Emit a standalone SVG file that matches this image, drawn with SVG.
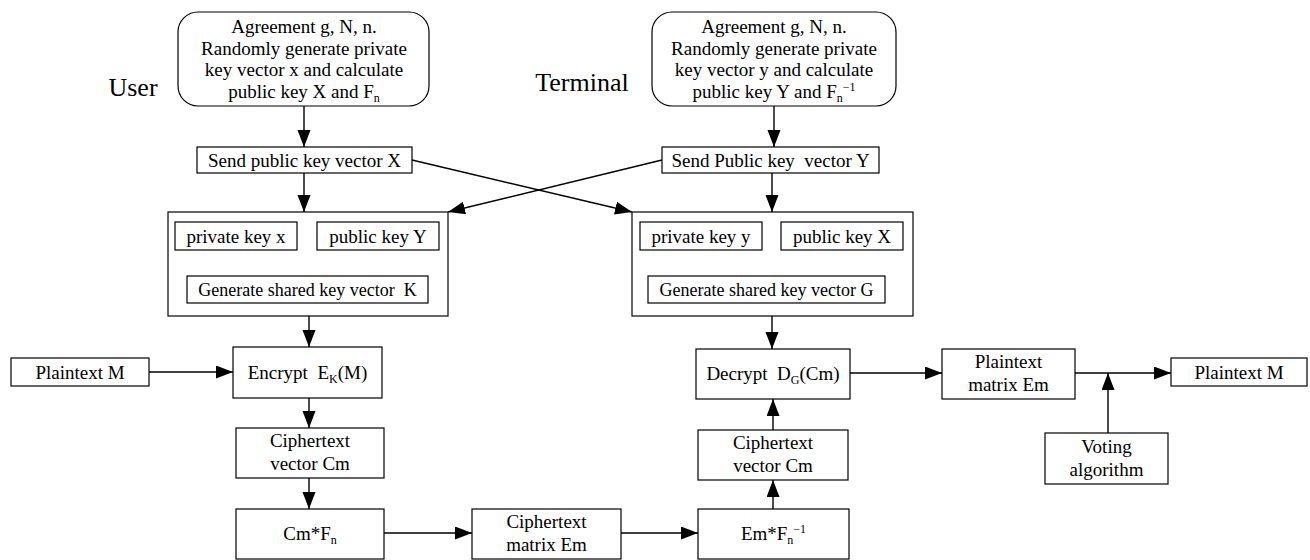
<svg xmlns="http://www.w3.org/2000/svg" width="1310" height="560" viewBox="0 0 1310 560">
  <style>
    .box { fill: #fff; stroke: #000; stroke-width: 1.2; }
    .t { font-family: "Liberation Serif", "Times New Roman", serif; font-size: 19px; fill: #000; text-anchor: middle; }
    .ts { font-size: 18px; }
    .lbl { font-family: "Liberation Serif", "Times New Roman", serif; font-size: 26px; fill: #000; text-anchor: middle; }
    .sub { font-size: 12px; }
    .edge { fill: none; stroke: #000; stroke-width: 1.4; marker-end: url(#ah); }
  </style>
  <defs>
    <marker id="ah" markerUnits="userSpaceOnUse" markerWidth="18" markerHeight="14" refX="17" refY="6.5" orient="auto">
      <path d="M0,0 L17,6.5 L0,13 z" fill="#000"/>
    </marker>
  </defs>
  <rect width="1310" height="560" fill="#fff"/>

  <!-- side labels -->
  <text class="lbl" x="133" y="96">User</text>
  <text class="lbl" x="582" y="91">Terminal</text>

  <!-- connectors -->
  <g id="connectors">
    <line class="edge" x1="304" y1="106" x2="304" y2="147"/>
    <line class="edge" x1="774" y1="106" x2="774" y2="147"/>
    <line class="edge" x1="304" y1="173" x2="304" y2="212"/>
    <line class="edge" x1="772" y1="173" x2="772" y2="212"/>
    <line class="edge" x1="412" y1="160" x2="632" y2="212"/>
    <line class="edge" x1="662" y1="160" x2="448" y2="212"/>
    <line class="edge" x1="238" y1="250" x2="305" y2="276"/>
    <line class="edge" x1="378" y1="250" x2="307" y2="276"/>
    <line class="edge" x1="702" y1="250" x2="766" y2="276"/>
    <line class="edge" x1="842" y1="250" x2="768" y2="276"/>
    <line class="edge" x1="309" y1="316" x2="309" y2="347"/>
    <line class="edge" x1="772" y1="316" x2="772" y2="349"/>
    <line class="edge" x1="149" y1="372" x2="233" y2="372"/>
    <line class="edge" x1="309" y1="398" x2="309" y2="428"/>
    <line class="edge" x1="309" y1="478" x2="309" y2="509"/>
    <line class="edge" x1="384" y1="533" x2="472" y2="533"/>
    <line class="edge" x1="621" y1="533" x2="698" y2="533"/>
    <line class="edge" x1="773" y1="509" x2="773" y2="480"/>
    <line class="edge" x1="773" y1="430" x2="773" y2="399"/>
    <line class="edge" x1="850" y1="373" x2="942" y2="373"/>
    <line class="edge" x1="1075" y1="373" x2="1171" y2="373"/>
    <line class="edge" x1="1108" y1="433" x2="1108" y2="373"/>
  </g>

  <!-- user side -->
  <g id="user-setup">
    <rect class="box" x="178" y="12" width="251" height="94" rx="20"/>
    <text class="t" x="304" y="33">Agreement g, N, n.</text>
    <text class="t" x="304" y="54.5">Randomly generate private</text>
    <text class="t" x="304" y="76">key vector x and calculate</text>
    <text class="t" x="304" y="97.5">public key X and F<tspan class="sub" dy="4">n</tspan></text>
  </g>
  <g id="user-send">
    <rect class="box" x="197" y="147" width="215" height="26"/>
    <text class="t" x="304.5" y="166.5">Send public key vector X</text>
  </g>
  <g id="user-keygen">
    <rect class="box" x="168" y="212" width="280" height="104"/>
  </g>
  <g id="user-private">
    <rect class="box" x="175" y="222" width="122" height="28"/>
    <text class="t" x="236" y="242.5">private key x</text>
  </g>
  <g id="user-public">
    <rect class="box" x="317" y="222" width="122" height="28"/>
    <text class="t" x="378" y="242.5">public key Y</text>
  </g>
  <g id="user-shared">
    <rect class="box" x="187" y="276" width="241" height="27"/>
    <text class="t ts" x="307.5" y="296" xml:space="preserve">Generate shared key vector  K</text>
  </g>
  <g id="plaintext-in">
    <rect class="box" x="11" y="358" width="138" height="28"/>
    <text class="t" x="80" y="378.5">Plaintext M</text>
  </g>
  <g id="encrypt">
    <rect class="box" x="233" y="347" width="149" height="51"/>
    <text class="t" x="307.5" y="379" xml:space="preserve">Encrypt  E<tspan class="sub" dy="4">K</tspan><tspan dy="-4">(M)</tspan></text>
  </g>
  <g id="cipher-vector-u">
    <rect class="box" x="236" y="428" width="148" height="50"/>
    <text class="t" x="310" y="447">Ciphertext</text>
    <text class="t" x="310" y="470">vector Cm</text>
  </g>
  <g id="cm-fn">
    <rect class="box" x="236" y="509" width="148" height="50"/>
    <text class="t" x="310" y="540">Cm*F<tspan class="sub" dy="4">n</tspan></text>
  </g>
  <g id="cipher-matrix">
    <rect class="box" x="472" y="509" width="149" height="50"/>
    <text class="t" x="546.5" y="528">Ciphertext</text>
    <text class="t" x="546.5" y="551">matrix Em</text>
  </g>

  <!-- terminal side -->
  <g id="term-setup">
    <rect class="box" x="652" y="12" width="244" height="94" rx="20"/>
    <text class="t" x="774" y="33">Agreement g, N, n.</text>
    <text class="t" x="774" y="54.5">Randomly generate private</text>
    <text class="t" x="774" y="76">key vector y and calculate</text>
    <text class="t" x="774" y="97.5">public key Y and F<tspan class="sub" dy="4">n</tspan><tspan class="sub" dy="-11">−1</tspan></text>
  </g>
  <g id="term-send">
    <rect class="box" x="662" y="147" width="217" height="26"/>
    <text class="t" x="770.5" y="166.5" xml:space="preserve">Send Public key  vector Y</text>
  </g>
  <g id="term-keygen">
    <rect class="box" x="632" y="212" width="281" height="104"/>
  </g>
  <g id="term-private">
    <rect class="box" x="640" y="222" width="122" height="28"/>
    <text class="t" x="701" y="242.5">private key y</text>
  </g>
  <g id="term-public">
    <rect class="box" x="781" y="222" width="122" height="28"/>
    <text class="t" x="842" y="242.5">public key X</text>
  </g>
  <g id="term-shared">
    <rect class="box" x="648" y="276" width="237" height="27"/>
    <text class="t ts" x="766.5" y="296">Generate shared key vector G</text>
  </g>
  <g id="decrypt">
    <rect class="box" x="696" y="349" width="154" height="50"/>
    <text class="t" x="773" y="380" xml:space="preserve">Decrypt  D<tspan class="sub" dy="4">G</tspan><tspan dy="-4">(Cm)</tspan></text>
  </g>
  <g id="cipher-vector-t">
    <rect class="box" x="698" y="430" width="150" height="50"/>
    <text class="t" x="773" y="449">Ciphertext</text>
    <text class="t" x="773" y="472">vector Cm</text>
  </g>
  <g id="em-fn-inv">
    <rect class="box" x="698" y="509" width="151" height="50"/>
    <text class="t" x="773.5" y="540">Em*F<tspan class="sub" dy="4">n</tspan><tspan class="sub" dy="-11">−1</tspan></text>
  </g>
  <g id="plain-matrix">
    <rect class="box" x="942" y="349" width="133" height="50"/>
    <text class="t" x="1008.5" y="368">Plaintext</text>
    <text class="t" x="1008.5" y="391">matrix Em</text>
  </g>
  <g id="plaintext-out">
    <rect class="box" x="1171" y="358" width="136" height="28"/>
    <text class="t" x="1239" y="378.5">Plaintext M</text>
  </g>
  <g id="voting">
    <rect class="box" x="1045" y="433" width="123" height="51"/>
    <text class="t" x="1106.5" y="453">Voting</text>
    <text class="t" x="1106.5" y="476">algorithm</text>
  </g>
</svg>
